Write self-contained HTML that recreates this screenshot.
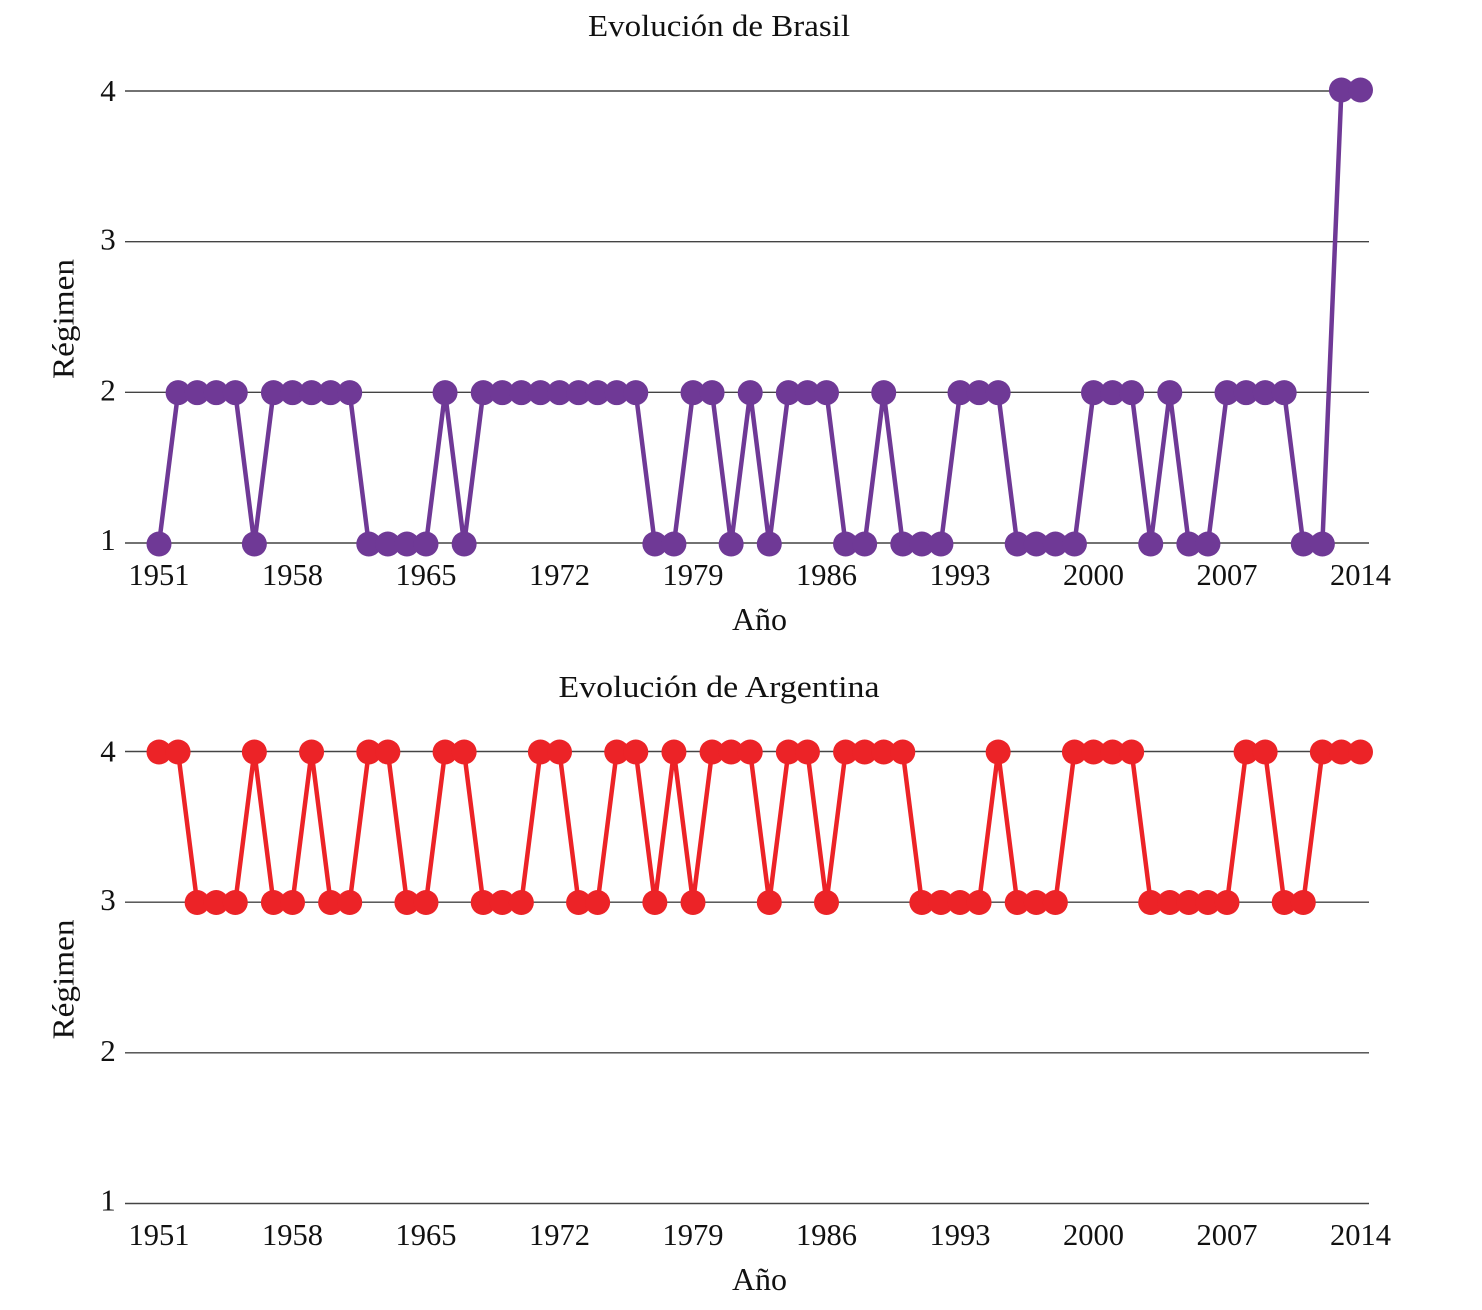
<!DOCTYPE html>
<html lang="es">
<head>
<meta charset="utf-8">
<title>Evolución de Brasil y Argentina</title>
<style>
html,body{margin:0;padding:0;background:#fff;}
svg{display:block;}
text{font-family:"Liberation Serif",serif;fill:#111;}
</style>
</head>
<body>
<svg id="chart" width="1482" height="1310" viewBox="0 0 1482 1310" xmlns="http://www.w3.org/2000/svg"></svg>
<script>
const years = [1951,1952,1953,1954,1955,1956,1957,1958,1959,1960,1961,1962,1963,1964,1965,1966,1967,1968,1969,1970,1971,1972,1973,1974,1975,1976,1977,1978,1979,1980,1981,1982,1983,1984,1985,1986,1987,1988,1989,1990,1991,1992,1993,1994,1995,1996,1997,1998,1999,2000,2001,2002,2003,2004,2005,2006,2007,2008,2009,2010,2011,2012,2013,2014];
const brasilValues = [1,2,2,2,2,1,2,2,2,2,2,1,1,1,1,2,1,2,2,2,2,2,2,2,2,2,1,1,2,2,1,2,1,2,2,2,1,1,2,1,1,1,2,2,2,1,1,1,1,2,2,2,1,2,1,1,2,2,2,2,1,1,4,4];
const argentinaValues = [4,4,3,3,3,4,3,3,4,3,3,4,4,3,3,4,4,3,3,3,4,4,3,3,4,4,3,4,3,4,4,4,3,4,4,3,4,4,4,4,3,3,3,3,4,3,3,3,4,4,4,4,3,3,3,3,3,4,4,3,3,4,4,4];
const xTickLabels = [1951,1958,1965,1972,1979,1986,1993,2000,2007,2014];
const yTickLabels = [1,2,3,4];
const brasilTitle = "Evolución de Brasil";
const argentinaTitle = "Evolución de Argentina";

const svg = document.getElementById('chart');
const NS = 'http://www.w3.org/2000/svg';
const xLeft = 159, xRight = 1360.5;
const xScale = year => xLeft + (year - years[0]) * (xRight - xLeft) / (years[years.length - 1] - years[0]);

function make(tag, attrs, parent) {
  const el = document.createElementNS(NS, tag);
  for (const k in attrs) el.setAttribute(k, attrs[k]);
  parent.appendChild(el);
  return el;
}

function drawPanel(panelName, title, titleWidth, values, color, gridAt1, gridAt4, markAt1, markAt4, titleY, tickLabelY, xTitleY) {
  const gridY = v => gridAt1 + (v - 1) * (gridAt4 - gridAt1) / 3;
  const markY = v => markAt1 + (v - 1) * (markAt4 - markAt1) / 3;

  const g = make('g', {}, svg);
  
  

  const titleEl = make('text', {x: 719, y: titleY, 'text-anchor': 'middle', 'font-size': 31, textLength: titleWidth, lengthAdjust: 'spacingAndGlyphs'}, g);
  
  
  titleEl.textContent = title;

  yTickLabels.forEach(tick => {
    const line = make('line', {x1: 125, x2: 1369, y1: gridY(tick), y2: gridY(tick), stroke: '#444', 'stroke-width': 1.4}, g);
    
    

    const label = make('text', {x: 108, y: gridY(tick) + (tick === 4 ? 10 : tick === 1 ? 7 : 8), 'text-anchor': 'middle', 'font-size': 31}, g);
    
    
    label.textContent = tick;
  });

  xTickLabels.forEach(year => {
    const label = make('text', {x: xScale(year), y: tickLabelY, 'text-anchor': 'middle', 'font-size': 30.5}, g);
    
    
    label.textContent = year;
  });

  const xTitle = make('text', {x: 759.5, y: xTitleY, 'text-anchor': 'middle', 'font-size': 32}, g);
  
  
  xTitle.textContent = 'Año';

  const yMid = (gridAt1 + gridAt4) / 2;
  const yTitle = make('text', {x: 0, y: 0, transform: 'translate(73.5 ' + (yMid + 2) + ') rotate(-90)', 'text-anchor': 'middle', 'font-size': 31, textLength: 120, lengthAdjust: 'spacingAndGlyphs'}, g);
  
  
  yTitle.textContent = 'Régimen';

  const points = years.map((year, i) => xScale(year) + ',' + markY(values[i])).join(' ');
  const path = make('polyline', {points: points, fill: 'none', stroke: color, 'stroke-width': 4.5, 'stroke-linejoin': 'round'}, g);
  
  

  years.forEach((year, i) => {
    const dot = make('circle', {cx: xScale(year), cy: markY(values[i]), r: 12.5, fill: color}, g);
    
    
  });
}

drawPanel('brasil', brasilTitle, 262, brasilValues, '#6f3996', 543, 91, 544, 90, 36, 585, 630);
drawPanel('argentina', argentinaTitle, 321, argentinaValues, '#ec2327', 1203.5, 751.5, 1203.5, 752, 697, 1245, 1290);
</script>
</body>
</html>
